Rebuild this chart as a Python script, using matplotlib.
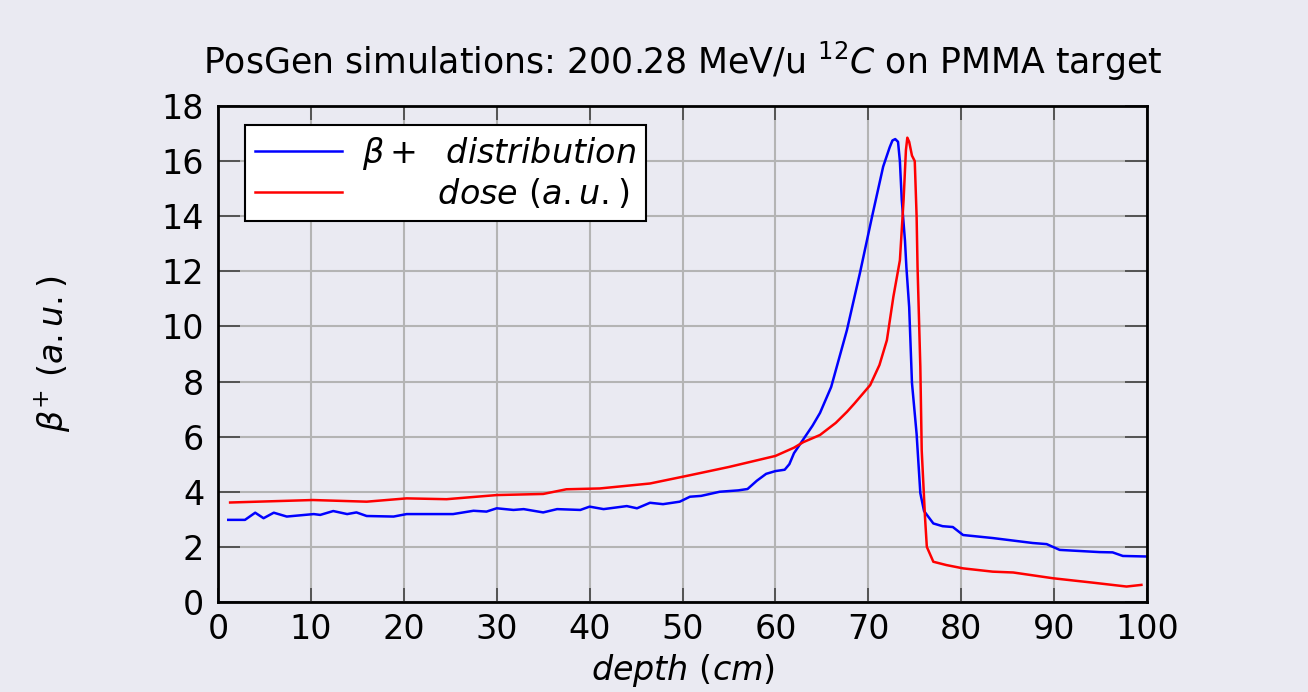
import matplotlib

matplotlib.use("Agg")
import matplotlib.pyplot as plt

# beta+ distribution
beta_depth = [1.1, 2.9, 4.0, 4.9, 6.0, 7.4, 10.3, 11.0, 12.4, 13.9, 14.9, 16.0, 18.9, 20.3,
              25.3, 27.5, 28.9, 30.0, 31.8, 32.9, 35.0, 36.5, 39.0, 40.0, 41.5, 44.0, 45.1,
              46.5, 47.9, 49.7, 50.8, 52.0, 54.0, 56.0, 57.0, 58.0, 59.0, 60.0, 61.0, 61.5,
              62.0, 63.0, 64.0, 64.8, 66.0, 67.7, 69.1, 70.4, 71.6, 72.3, 72.6, 72.9, 73.2,
              73.4, 73.6, 73.95, 74.1, 74.4, 74.7, 75.2, 75.6, 76.0, 77.0, 78.0, 79.1, 80.2,
              83.4, 87.7, 89.2, 90.6, 94.9, 96.3, 97.4, 100.0]
beta_vals = [2.98, 2.98, 3.24, 3.04, 3.24, 3.10, 3.19, 3.16, 3.30, 3.19, 3.25, 3.12, 3.10, 3.19,
             3.19, 3.31, 3.28, 3.40, 3.34, 3.37, 3.25, 3.37, 3.34, 3.46, 3.37, 3.48, 3.40,
             3.60, 3.55, 3.64, 3.82, 3.85, 4.00, 4.05, 4.10, 4.40, 4.65, 4.75, 4.80, 5.00,
             5.40, 5.90, 6.40, 6.86, 7.80, 9.87, 11.94, 13.98, 15.80, 16.50, 16.75, 16.80, 16.70,
             16.00, 14.60, 13.10, 12.15, 10.70, 7.95, 6.10, 3.95, 3.30, 2.85, 2.75, 2.72, 2.43,
             2.32, 2.14, 2.10, 1.89, 1.81, 1.80, 1.67, 1.65]

# dose profile
dose_depth = [1.3, 10.2, 16.0, 20.3, 24.6, 30.0, 35.0, 37.5, 41.1, 46.5, 50.8, 55.0, 60.0,
              62.0, 63.0, 64.8, 66.5, 67.7, 68.5, 70.2, 71.2, 72.0, 72.7, 73.4, 73.8, 74.05,
              74.2, 74.4, 74.7, 75.0, 75.2, 75.3, 75.6, 75.75, 76.1, 76.3, 77.0, 78.4, 80.2,
              83.4, 85.6, 89.9, 94.2, 97.8, 99.4]
dose_vals = [3.61, 3.70, 3.64, 3.76, 3.73, 3.88, 3.92, 4.09, 4.12, 4.30, 4.60, 4.90, 5.30,
             5.60, 5.80, 6.06, 6.50, 6.90, 7.20, 7.87, 8.60, 9.50, 11.08, 12.40, 14.60, 16.40,
             16.85, 16.70, 16.20, 16.00, 14.00, 12.17, 8.54, 5.50, 3.10, 2.00, 1.46, 1.34, 1.22,
             1.10, 1.07, 0.86, 0.70, 0.56, 0.62]

x_ticks = list(range(0, 101, 10))
y_ticks = list(range(0, 19, 2))

BG = "#eaeaf2"

plt.rcParams["mathtext.fontset"] = "dejavusans"

fig = plt.figure(figsize=(13.08, 6.92), dpi=100, facecolor=BG)
ax = fig.add_axes([0.1667, 0.1301, 0.7102, 0.7167], facecolor=BG)

ax.plot(beta_depth, beta_vals, color="#0000ff", linewidth=1.8, label=r"$\beta+\ \ distribution$")
ax.plot(dose_depth, dose_vals, color="#ff0000", linewidth=1.8, label=r"$\qquad\ dose\ (a.u.)$")

ax.set_xlim(0, 100)
ax.set_ylim(0, 18)
ax.set_xticks(x_ticks)
ax.set_yticks(y_ticks)
ax.grid(True, color="#b4b4b4", linewidth=1.5)
ax.set_axisbelow(True)
ax.tick_params(axis="both", direction="in", top=True, right=True, labelsize=24,
               width=1.2, color="#444444")
ax.tick_params(axis="x", length=10, pad=8)
ax.tick_params(axis="y", length=16, pad=10)
for s in ax.spines.values():
    s.set_linewidth(2)
    s.set_color("black")

ax.set_title(r"PosGen simulations: 200.28 MeV/u $^{12}C$ on PMMA target", fontsize=25, pad=23)
ax.set_xlabel(r"$depth\ (cm)$", fontsize=24, labelpad=4)
ax.set_ylabel(r"$\beta^{+}\ (a.u.)$", fontsize=24, labelpad=64)

leg = ax.legend(loc="upper left", bbox_to_anchor=(0.029, 0.962), borderaxespad=0,
                fontsize=24, handlelength=2.6, handletextpad=0.6, fancybox=False,
                framealpha=1, edgecolor="black", facecolor="white",
                labelspacing=0.15, borderpad=0.3)
leg.get_frame().set_linewidth(1.5)

fig.savefig("out.png", dpi=100, facecolor=BG)
